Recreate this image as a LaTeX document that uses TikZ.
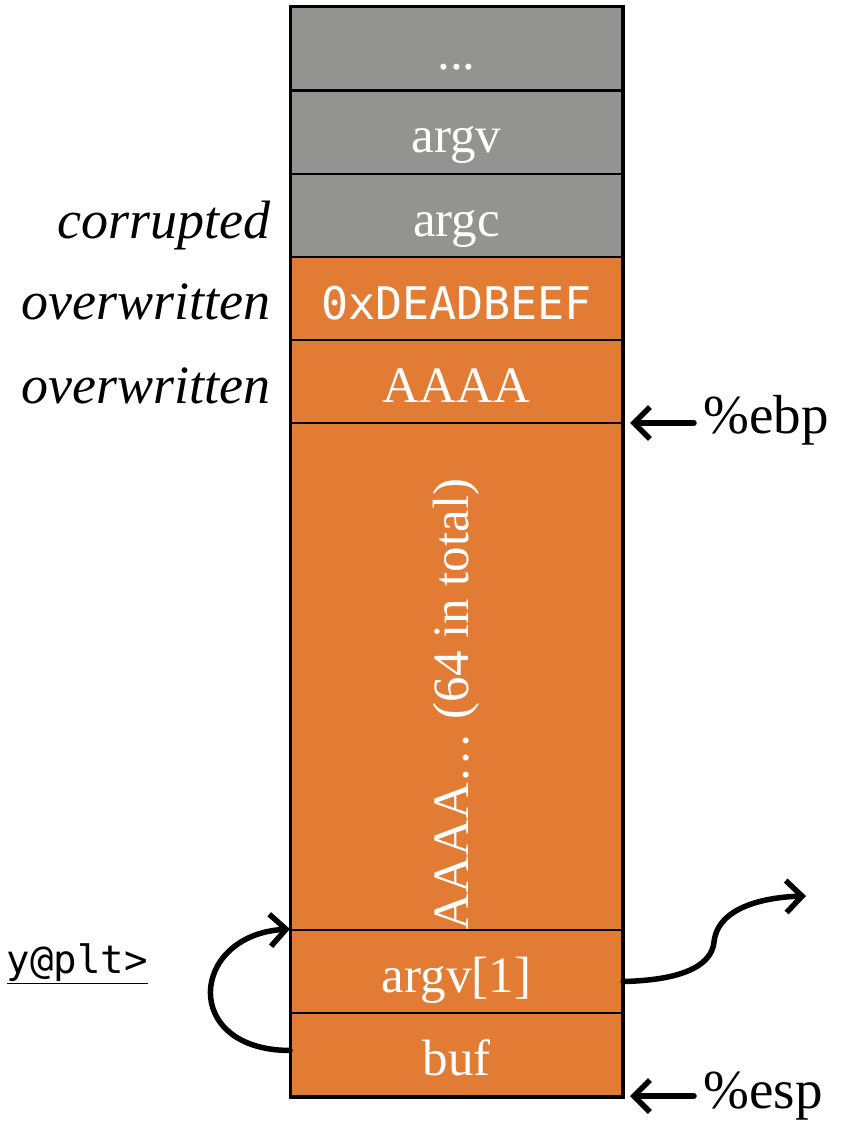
\documentclass[tikz,border=0pt]{standalone}
\usepackage{fontspec}
\setmainfont{Liberation Serif}
\setmonofont{DejaVu Sans Mono}
\usetikzlibrary{arrows.meta}

\definecolor{stackgray}{RGB}{147,148,146}
\definecolor{stackorange}{RGB}{226,123,52}

\begin{document}
\begin{tikzpicture}[x=1pt,y=-1pt,
    slot/.style ={rectangle, draw, line width=2pt, minimum width=331pt,
                  minimum height=83pt, text=white, inner sep=0pt,
                  font=\fontsize{51}{60}\selectfont},
    oldslot/.style ={slot, fill=stackgray, text height=46pt, text depth=5pt},
    newslot/.style ={slot, fill=stackorange, text height=46pt, text depth=5pt},
    bigslot/.style ={slot, fill=stackorange, minimum height=507pt},
    note/.style ={anchor=east, font=\fontsize{54}{64}\selectfont\itshape},
    reg/.style ={anchor=west, font=\fontsize{55}{64}\selectfont},
    ptr/.style ={line width=5.5pt, line cap=round,
                 -{Straight Barb[length=16pt,width=32pt]}}]
   \useasboundingbox (0,0) rectangle (850,1121);

   \node[oldslot] (dots)  at (456.5,49)    {...};
   \node[oldslot] (argv)  at (456.5,132.5) {argv};
   \node[oldslot] (argc)  at (456.5,215.5) {argc};
   \node[newslot] (ret)   at (456.5,298.5) {\fontsize{45}{50}\selectfont\ttfamily 0xDEADBEEF};
   \node[newslot] (sebp)  at (456.5,381.5) {AAAA};
   \node[bigslot] (fill)  at (456.5,676.5)
      {\rotatebox{90}{AAAA\ldots\ (64 in total)\hspace{56pt}}};
   \node[newslot] (argv1) at (456.5,971.5) {argv[1]};
   \node[newslot] (buf)   at (456.5,1054.5) {buf};

   \draw[line width=3pt] (dots.north west) rectangle (buf.south east);

   \node[note] (cor)  at (274,226) {corrupted};
   \node[note] (ow1)  at (274,302) {overwritten};
   \node[note] (ow2)  at (274,386) {overwritten};
   \node[anchor=east, inner sep=0pt, font=\fontsize{39}{46}\selectfont\ttfamily] (plt) at (148,964)
      {\underline{y@plt>}};

   \coordinate (ebpfrom) at (694,423);
   \coordinate (espfrom) at (694,1096);
   \node[reg] (ebp) at (700,420) {\%ebp};
   \node[reg] (esp) at (700,1096) {\%esp};
   \coordinate (away) at (806,896);

   \draw[ptr] (ebpfrom) to (630,423);
   \draw[ptr] (espfrom) to (630,1096);
   \draw[ptr] ([yshift=4pt]buf.west) .. controls (180,1050) and (190,935) .. (argv1.north west);
   \draw[ptr] ([yshift=-10pt]argv1.east) .. controls (690,980) and (712,962) .. (714,942)
      .. controls (718,905) and (770,897) .. (away);
\end{tikzpicture}
\end{document}
